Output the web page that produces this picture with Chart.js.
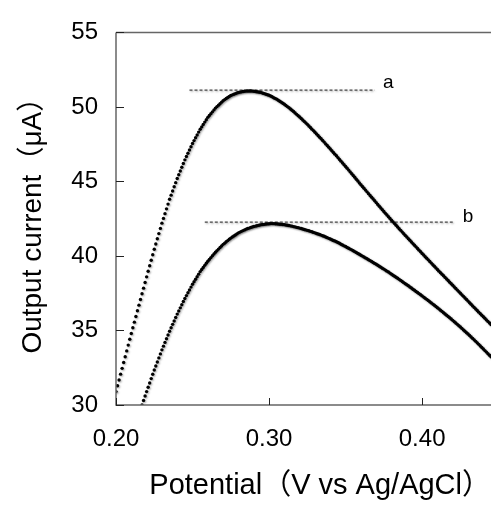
<!DOCTYPE html>
<html>
<head>
<meta charset="utf-8">
<script src="https://cdn.jsdelivr.net/npm/chart.js@4.4.1/dist/chart.umd.min.js"></script>
<style>
  html, body { margin: 0; padding: 0; background: #fff; overflow: hidden; }
</style>
</head>
<body>
<canvas id="myChart" width="491" height="506"></canvas>
<script>
// potential (V vs Ag/AgCl), one reading every 1 mV
const potential = [
  0.200,0.201,0.202,0.203,0.204,0.205,0.206,0.207,0.208,0.209,
  0.210,0.211,0.212,0.213,0.214,0.215,0.216,0.217,0.218,0.219,
  0.220,0.221,0.222,0.223,0.224,0.225,0.226,0.227,0.228,0.229,
  0.230,0.231,0.232,0.233,0.234,0.235,0.236,0.237,0.238,0.239,
  0.240,0.241,0.242,0.243,0.244,0.245,0.246,0.247,0.248,0.249,
  0.250,0.251,0.252,0.253,0.254,0.255,0.256,0.257,0.258,0.259,
  0.260,0.261,0.262,0.263,0.264,0.265,0.266,0.267,0.268,0.269,
  0.270,0.271,0.272,0.273,0.274,0.275,0.276,0.277,0.278,0.279,
  0.280,0.281,0.282,0.283,0.284,0.285,0.286,0.287,0.288,0.289,
  0.290,0.291,0.292,0.293,0.294,0.295,0.296,0.297,0.298,0.299,
  0.300,0.301,0.302,0.303,0.304,0.305,0.306,0.307,0.308,0.309,
  0.310,0.311,0.312,0.313,0.314,0.315,0.316,0.317,0.318,0.319,
  0.320,0.321,0.322,0.323,0.324,0.325,0.326,0.327,0.328,0.329,
  0.330,0.331,0.332,0.333,0.334,0.335,0.336,0.337,0.338,0.339,
  0.340,0.341,0.342,0.343,0.344,0.345,0.346,0.347,0.348,0.349,
  0.350,0.351,0.352,0.353,0.354,0.355,0.356,0.357,0.358,0.359,
  0.360,0.361,0.362,0.363,0.364,0.365,0.366,0.367,0.368,0.369,
  0.370,0.371,0.372,0.373,0.374,0.375,0.376,0.377,0.378,0.379,
  0.380,0.381,0.382,0.383,0.384,0.385,0.386,0.387,0.388,0.389,
  0.390,0.391,0.392,0.393,0.394,0.395,0.396,0.397,0.398,0.399,
  0.400,0.401,0.402,0.403,0.404,0.405,0.406,0.407,0.408,0.409,
  0.410,0.411,0.412,0.413,0.414,0.415,0.416,0.417,0.418,0.419,
  0.420,0.421,0.422,0.423,0.424,0.425,0.426,0.427,0.428,0.429,
  0.430,0.431,0.432,0.433,0.434,0.435,0.436,0.437,0.438,0.439,
  0.440,0.441,0.442,0.443,0.444,0.445
];

// output current (uA), curve a
const currentA = [
  30.90,31.29,31.68,32.07,32.46,32.85,33.24,33.63,34.02,34.41,
  34.80,35.18,35.56,35.94,36.32,36.70,37.08,37.46,37.84,38.22,
  38.60,38.97,39.34,39.71,40.08,40.45,40.80,41.15,41.50,41.85,
  42.20,42.52,42.84,43.16,43.48,43.80,44.08,44.36,44.64,44.92,
  45.20,45.45,45.70,45.95,46.20,46.45,46.67,46.89,47.11,47.33,
  47.55,47.74,47.93,48.12,48.31,48.50,48.66,48.82,48.98,49.14,
  49.30,49.42,49.55,49.67,49.80,49.92,50.02,50.12,50.22,50.32,
  50.42,50.49,50.56,50.63,50.70,50.77,50.81,50.85,50.89,50.93,
  50.97,50.99,51.01,51.03,51.05,51.06,51.07,51.07,51.07,51.06,
  51.05,51.03,51.02,51.00,50.98,50.96,50.92,50.89,50.85,50.82,
  50.78,50.73,50.68,50.62,50.57,50.52,50.45,50.38,50.32,50.25,
  50.18,50.10,50.02,49.94,49.86,49.78,49.69,49.60,49.50,49.41,
  49.32,49.22,49.12,49.03,48.93,48.83,48.72,48.62,48.51,48.41,
  48.30,48.19,48.08,47.97,47.86,47.75,47.64,47.52,47.41,47.29,
  47.18,47.06,46.95,46.83,46.72,46.60,46.48,46.36,46.24,46.12,
  46.00,45.88,45.76,45.64,45.52,45.40,45.28,45.15,45.03,44.90,
  44.78,44.66,44.54,44.42,44.30,44.18,44.06,43.94,43.82,43.70,
  43.58,43.46,43.34,43.22,43.10,42.98,42.86,42.75,42.63,42.52,
  42.40,42.29,42.17,42.06,41.94,41.83,41.72,41.60,41.49,41.38,
  41.27,41.16,41.05,40.94,40.83,40.72,40.61,40.50,40.39,40.28,
  40.17,40.06,39.95,39.85,39.74,39.63,39.52,39.41,39.31,39.20,
  39.09,38.98,38.88,38.77,38.67,38.56,38.45,38.35,38.24,38.14,
  38.03,37.92,37.82,37.71,37.61,37.50,37.39,37.29,37.18,37.08,
  36.97,36.86,36.76,36.65,36.55,36.44,36.34,36.23,36.13,36.02,
  35.92,35.82,35.71,35.61,35.50,35.40
];

// output current (uA), curve b (below 30 uA is off the plot)
const currentB = [
  null,null,null,null,null,null,null,null,null,null,
  null,null,null,null,null,null,null,30.00,30.30,30.60,
  30.90,31.19,31.48,31.77,32.06,32.35,32.62,32.89,33.16,33.43,
  33.70,33.95,34.20,34.45,34.70,34.95,35.18,35.41,35.64,35.87,
  36.10,36.31,36.52,36.73,36.94,37.15,37.34,37.53,37.72,37.91,
  38.10,38.27,38.44,38.61,38.78,38.95,39.09,39.23,39.37,39.51,
  39.65,39.77,39.89,40.01,40.13,40.25,40.36,40.46,40.57,40.67,
  40.78,40.86,40.95,41.03,41.12,41.20,41.27,41.34,41.41,41.48,
  41.55,41.60,41.65,41.70,41.75,41.80,41.84,41.87,41.91,41.94,
  41.98,42.00,42.03,42.05,42.08,42.10,42.11,42.12,42.14,42.15,
  42.16,42.17,42.17,42.17,42.16,42.15,42.14,42.13,42.12,42.11,
  42.10,42.08,42.06,42.04,42.02,42.00,41.97,41.95,41.92,41.90,
  41.87,41.84,41.81,41.78,41.75,41.72,41.69,41.65,41.62,41.58,
  41.55,41.51,41.47,41.44,41.40,41.36,41.32,41.27,41.23,41.18,
  41.14,41.09,41.04,41.00,40.95,40.90,40.85,40.79,40.74,40.68,
  40.63,40.57,40.52,40.46,40.41,40.35,40.29,40.23,40.17,40.11,
  40.05,39.99,39.93,39.87,39.81,39.75,39.69,39.63,39.56,39.50,
  39.44,39.38,39.31,39.25,39.18,39.12,39.05,38.98,38.92,38.85,
  38.78,38.71,38.64,38.57,38.50,38.43,38.36,38.29,38.21,38.14,
  38.07,38.00,37.92,37.85,37.77,37.70,37.62,37.55,37.47,37.40,
  37.32,37.24,37.16,37.09,37.01,36.93,36.85,36.77,36.69,36.61,
  36.53,36.45,36.36,36.28,36.19,36.11,36.02,35.94,35.85,35.77,
  35.68,35.59,35.50,35.41,35.32,35.23,35.14,35.04,34.95,34.85,
  34.76,34.66,34.56,34.47,34.37,34.27,34.17,34.07,33.96,33.86,
  33.76,33.65,33.55,33.44,33.34,33.23
];

// dashed peak markers: [start, end] potential and level
const peakLineA = [0.248, 0.369];
const peakLevelA = 51.13;
const peakLineB = [0.258, 0.420];
const peakLevelB = 42.27;
const curveLabels = ["a", "b"];
const labelPosX = [0.3745, 0.4265];
const labelPosY = [51.6, 42.6];

const xTicks = [0.20, 0.30, 0.40];
const yTicks = [30, 35, 40, 45, 50, 55];

const FONT = '"Liberation Sans", Arial, "Noto Sans CJK JP", sans-serif';

function toPoints(xs, ys) {
  var out = [];
  for (var i = 0; i < xs.length; i++) {
    if (ys[i] !== null) out.push({ x: xs[i], y: ys[i] });
  }
  return out;
}

// frame, inward tick marks and the a / b labels
const decorations = {
  id: "decorations",
  beforeDatasetsDraw(chart) {
    const ctx = chart.ctx;
    ctx.save();
    ctx.shadowColor = "rgba(0,0,0,0.35)";
    ctx.shadowBlur = 2;
    ctx.shadowOffsetX = 1;
    ctx.shadowOffsetY = 1;
  },
  afterDatasetsDraw(chart) {
    chart.ctx.restore();
  },
  afterDraw(chart) {
    const ctx = chart.ctx;
    const a = chart.chartArea;
    const xs = chart.scales.x, ys = chart.scales.y;
    ctx.save();
    ctx.strokeStyle = "#666";
    ctx.lineWidth = 1.5;
    ctx.beginPath();
    ctx.moveTo(a.left, a.top);
    ctx.lineTo(a.left, a.bottom);
    ctx.lineTo(a.right, a.bottom);
    ctx.moveTo(a.left, a.top);
    ctx.lineTo(a.right, a.top);
    ctx.stroke();

    ctx.strokeStyle = "#222";
    ctx.lineWidth = 1;
    ctx.beginPath();
    xTicks.forEach(function (v) {
      const px = Math.round(xs.getPixelForValue(v)) + 0.5;
      ctx.moveTo(px, a.bottom);
      ctx.lineTo(px, a.bottom - 7);
    });
    yTicks.forEach(function (v) {
      const py = Math.round(ys.getPixelForValue(v)) + 0.5;
      ctx.moveTo(a.left, py);
      ctx.lineTo(a.left + 8, py);
    });
    ctx.stroke();

    ctx.fillStyle = "#000";
    ctx.font = "19px " + FONT;
    ctx.textBaseline = "middle";
    ctx.textAlign = "left";
    curveLabels.forEach(function (t, i) {
      ctx.fillText(t, xs.getPixelForValue(labelPosX[i]), ys.getPixelForValue(labelPosY[i]));
    });
    ctx.restore();
  }
};

const ctx = document.getElementById("myChart").getContext("2d");
const myChart = new Chart(ctx, {
  type: "scatter",
  data: {
    datasets: [
      {
        label: "a",
        data: toPoints(potential, currentA),
        pointRadius: 1.7,
        pointBorderWidth: 0,
        pointBackgroundColor: "#000",
        showLine: false
      },
      {
        label: "b",
        data: toPoints(potential, currentB),
        pointRadius: 1.7,
        pointBorderWidth: 0,
        pointBackgroundColor: "#000",
        showLine: false
      },
      {
        label: "peak a",
        data: peakLineA.map(function (v) { return { x: v, y: peakLevelA }; }),
        showLine: true,
        borderColor: "#444",
        borderWidth: 1.3,
        borderDash: [3, 2],
        pointRadius: 0
      },
      {
        label: "peak b",
        data: peakLineB.map(function (v) { return { x: v, y: peakLevelB }; }),
        showLine: true,
        borderColor: "#444",
        borderWidth: 1.3,
        borderDash: [3, 2],
        pointRadius: 0
      }
    ]
  },
  options: {
    responsive: false,
    animation: false,
    layout: { autoPadding: false, padding: { top: 29, right: 0, left: 0, bottom: 0 } },
    plugins: { legend: { display: false }, tooltip: { enabled: false } },
    scales: {
      x: {
        type: "linear",
        min: 0.20,
        max: 0.445,
        grid: { display: false, drawTicks: false },
        border: { display: false },
        afterBuildTicks: function (s) { s.ticks = xTicks.map(function (v) { return { value: v }; }); },
        afterFit: function (s) { s.height = 101; s.paddingLeft = 0; s.paddingRight = 0; },
        ticks: {
          padding: 20,
          color: "#000",
          maxRotation: 0,
          font: { family: FONT, size: 24 },
          callback: function (v) { return Number(v).toFixed(2); }
        },
        title: {
          display: true,
          align: "end",
          text: "Potential（V vs Ag/AgCl）",
          color: "#000",
          font: { family: FONT, size: 29 },
          padding: { top: 0, bottom: 3 }
        }
      },
      y: {
        type: "linear",
        min: 30,
        max: 55,
        grid: { display: false, drawTicks: false },
        border: { display: false },
        afterBuildTicks: function (s) { s.ticks = yTicks.map(function (v) { return { value: v }; }); },
        afterFit: function (s) { s.width = 116; },
        ticks: {
          padding: 18,
          color: "#000",
          font: { family: FONT, size: 24 }
        },
        title: {
          display: true,
          text: "Output current（μA）",
          color: "#000",
          font: { family: FONT, size: 28 },
          padding: { top: 16, bottom: 0 }
        }
      }
    }
  },
  plugins: [decorations]
});
</script>
</body>
</html>
